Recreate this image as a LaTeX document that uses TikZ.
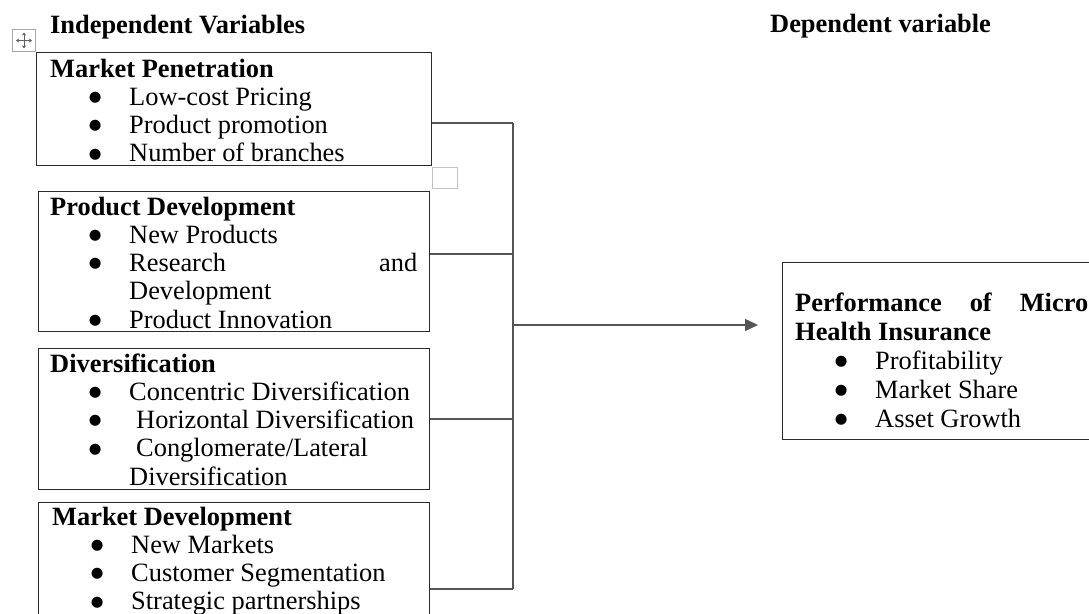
\documentclass[tikz,border=0pt]{standalone}
\usepackage{fontspec}
\setmainfont{Liberation Serif}
\newfontfamily\dotfont{DejaVu Sans}
\usetikzlibrary{arrows.meta}
\definecolor{boxline}{HTML}{2A2A2A}
\definecolor{connline}{HTML}{555555}
\definecolor{iconline}{HTML}{A8A8A8}
\definecolor{iconcross}{HTML}{606060}
\tikzset{
  box/.style={draw=boxline, line width=1.3pt, rectangle, inner sep=0pt, anchor=north west},
  txt/.style={anchor=base west, inner sep=0pt, font=\fontsize{26.4}{28.3}\selectfont},
  txtdep/.style={anchor=base west, inner sep=0pt, font=\fontsize{26.4}{29}\selectfont},
  head/.style={anchor=base west, inner sep=0pt, font=\fontsize{26.4}{28.3}\selectfont\bfseries},
  conn/.style={draw=connline, line width=1.5pt},
  arr/.style={draw=connline, line width=1.5pt, -{Triangle[length=13pt,width=12pt]}},
  wordmark/.style={draw=iconline, line width=1pt, rectangle, inner sep=0pt, anchor=north west},
}
\newcommand{\bdot}{\makebox[0pt][c]{\raisebox{3.8pt}{\dotfont\fontsize{14.5}{14.5}\selectfont ●}}}
\newcommand{\bhead}[1]{\hbox{\textbf{#1}}}
\newcommand{\bitem}[1]{\hbox{\hspace*{45pt}\bdot\hspace*{34pt}#1}}
\newcommand{\bcont}[1]{\hbox{\hspace*{79pt}#1}}
\newcommand{\ditem}[1]{\hbox{\hspace*{46pt}\bdot\hspace*{34pt}#1}}
\begin{document}
\begin{tikzpicture}[x=1pt,y=-1pt]
\useasboundingbox (0,0) rectangle (1089,613);
\fill[white] (0,0) rectangle (1089,613);
\clip (0,0) rectangle (1089,613);

% headings
\node[head] (hind) at (50,33) {Independent Variables};
\node[head] (hdep) at (770,32) {Dependent variable};

% word move handle and small square
\node[wordmark, minimum width=23pt, minimum height=22pt] (mv) at (12,29) {};
\draw[iconcross, line width=0.9pt, {Stealth[length=3pt,width=4pt]}-{Stealth[length=3pt,width=4pt]}]
  (mv.center) ++(-8,0) -- ++(16,0);
\draw[iconcross, line width=0.9pt, {Stealth[length=3pt,width=4pt]}-{Stealth[length=3pt,width=4pt]}]
  (mv.center) ++(0,-8) -- ++(0,16);
\node[wordmark, draw=iconline!70, minimum width=25pt, minimum height=21pt] (sq) at (432,167) {};

% boxes
\node[box, minimum width=395pt, minimum height=113pt] (b1) at (36,52) {};
\node[box, minimum width=391pt, minimum height=140pt] (b2) at (38,191) {};
\node[box, minimum width=391pt, minimum height=141pt] (b3) at (38,348) {};
\node[box, minimum width=391pt, minimum height=160pt] (b4) at (38,502) {};
\node[box, minimum width=340pt, minimum height=177pt] (dep) at (782,262) {};

% texts
\node[txt] (t1) at (50,77) {\vtop{\bhead{Market Penetration}
  \bitem{Low-cost Pricing}\bitem{Product promotion}\bitem{Number of branches}}};
\node[txt] (t2) at (50,215) {\vtop{\bhead{Product Development}
  \bitem{New Products}\bitem{\makebox[288pt][l]{Research\hfill and}}
  \bcont{Development}\bitem{Product Innovation}}};
\node[txt] (t3) at (50,372) {\vtop{\bhead{Diversification}
  \bitem{Concentric Diversification}\bitem{\hspace*{7pt}Horizontal Diversification}
  \bitem{\hspace*{7pt}Conglomerate/Lateral}\bcont{Diversification}}};
\node[txt] (t4) at (52,525) {\vtop{\bhead{Market Development}
  \bitem{New Markets}\bitem{Customer Segmentation}\bitem{Strategic partnerships}}};
\node[txtdep] (td) at (795,311) {\vtop{\hbox{\textbf{\makebox[293pt][s]{Performance of Micro}}}
  \bhead{Health Insurance}
  \ditem{Profitability}\ditem{Market Share}\ditem{Asset Growth}}};

% connectors
\coordinate (j1) at (513,123);
\coordinate (j2) at (513,254);
\coordinate (j3) at (513,419);
\coordinate (j4) at (513,589);
\coordinate (jm) at (513,325);
\draw[conn] (j1 -| b1.east) -- (j1);
\draw[conn] (j2 -| b2.east) -- (j2);
\draw[conn] (j3 -| b3.east) -- (j3);
\draw[conn] (j4 -| b4.east) -- (j4);
\draw[conn] (j1) -- (j4);
\draw[arr, shorten >=24pt] (jm) -- (jm -| dep.west);
\end{tikzpicture}
\end{document}
